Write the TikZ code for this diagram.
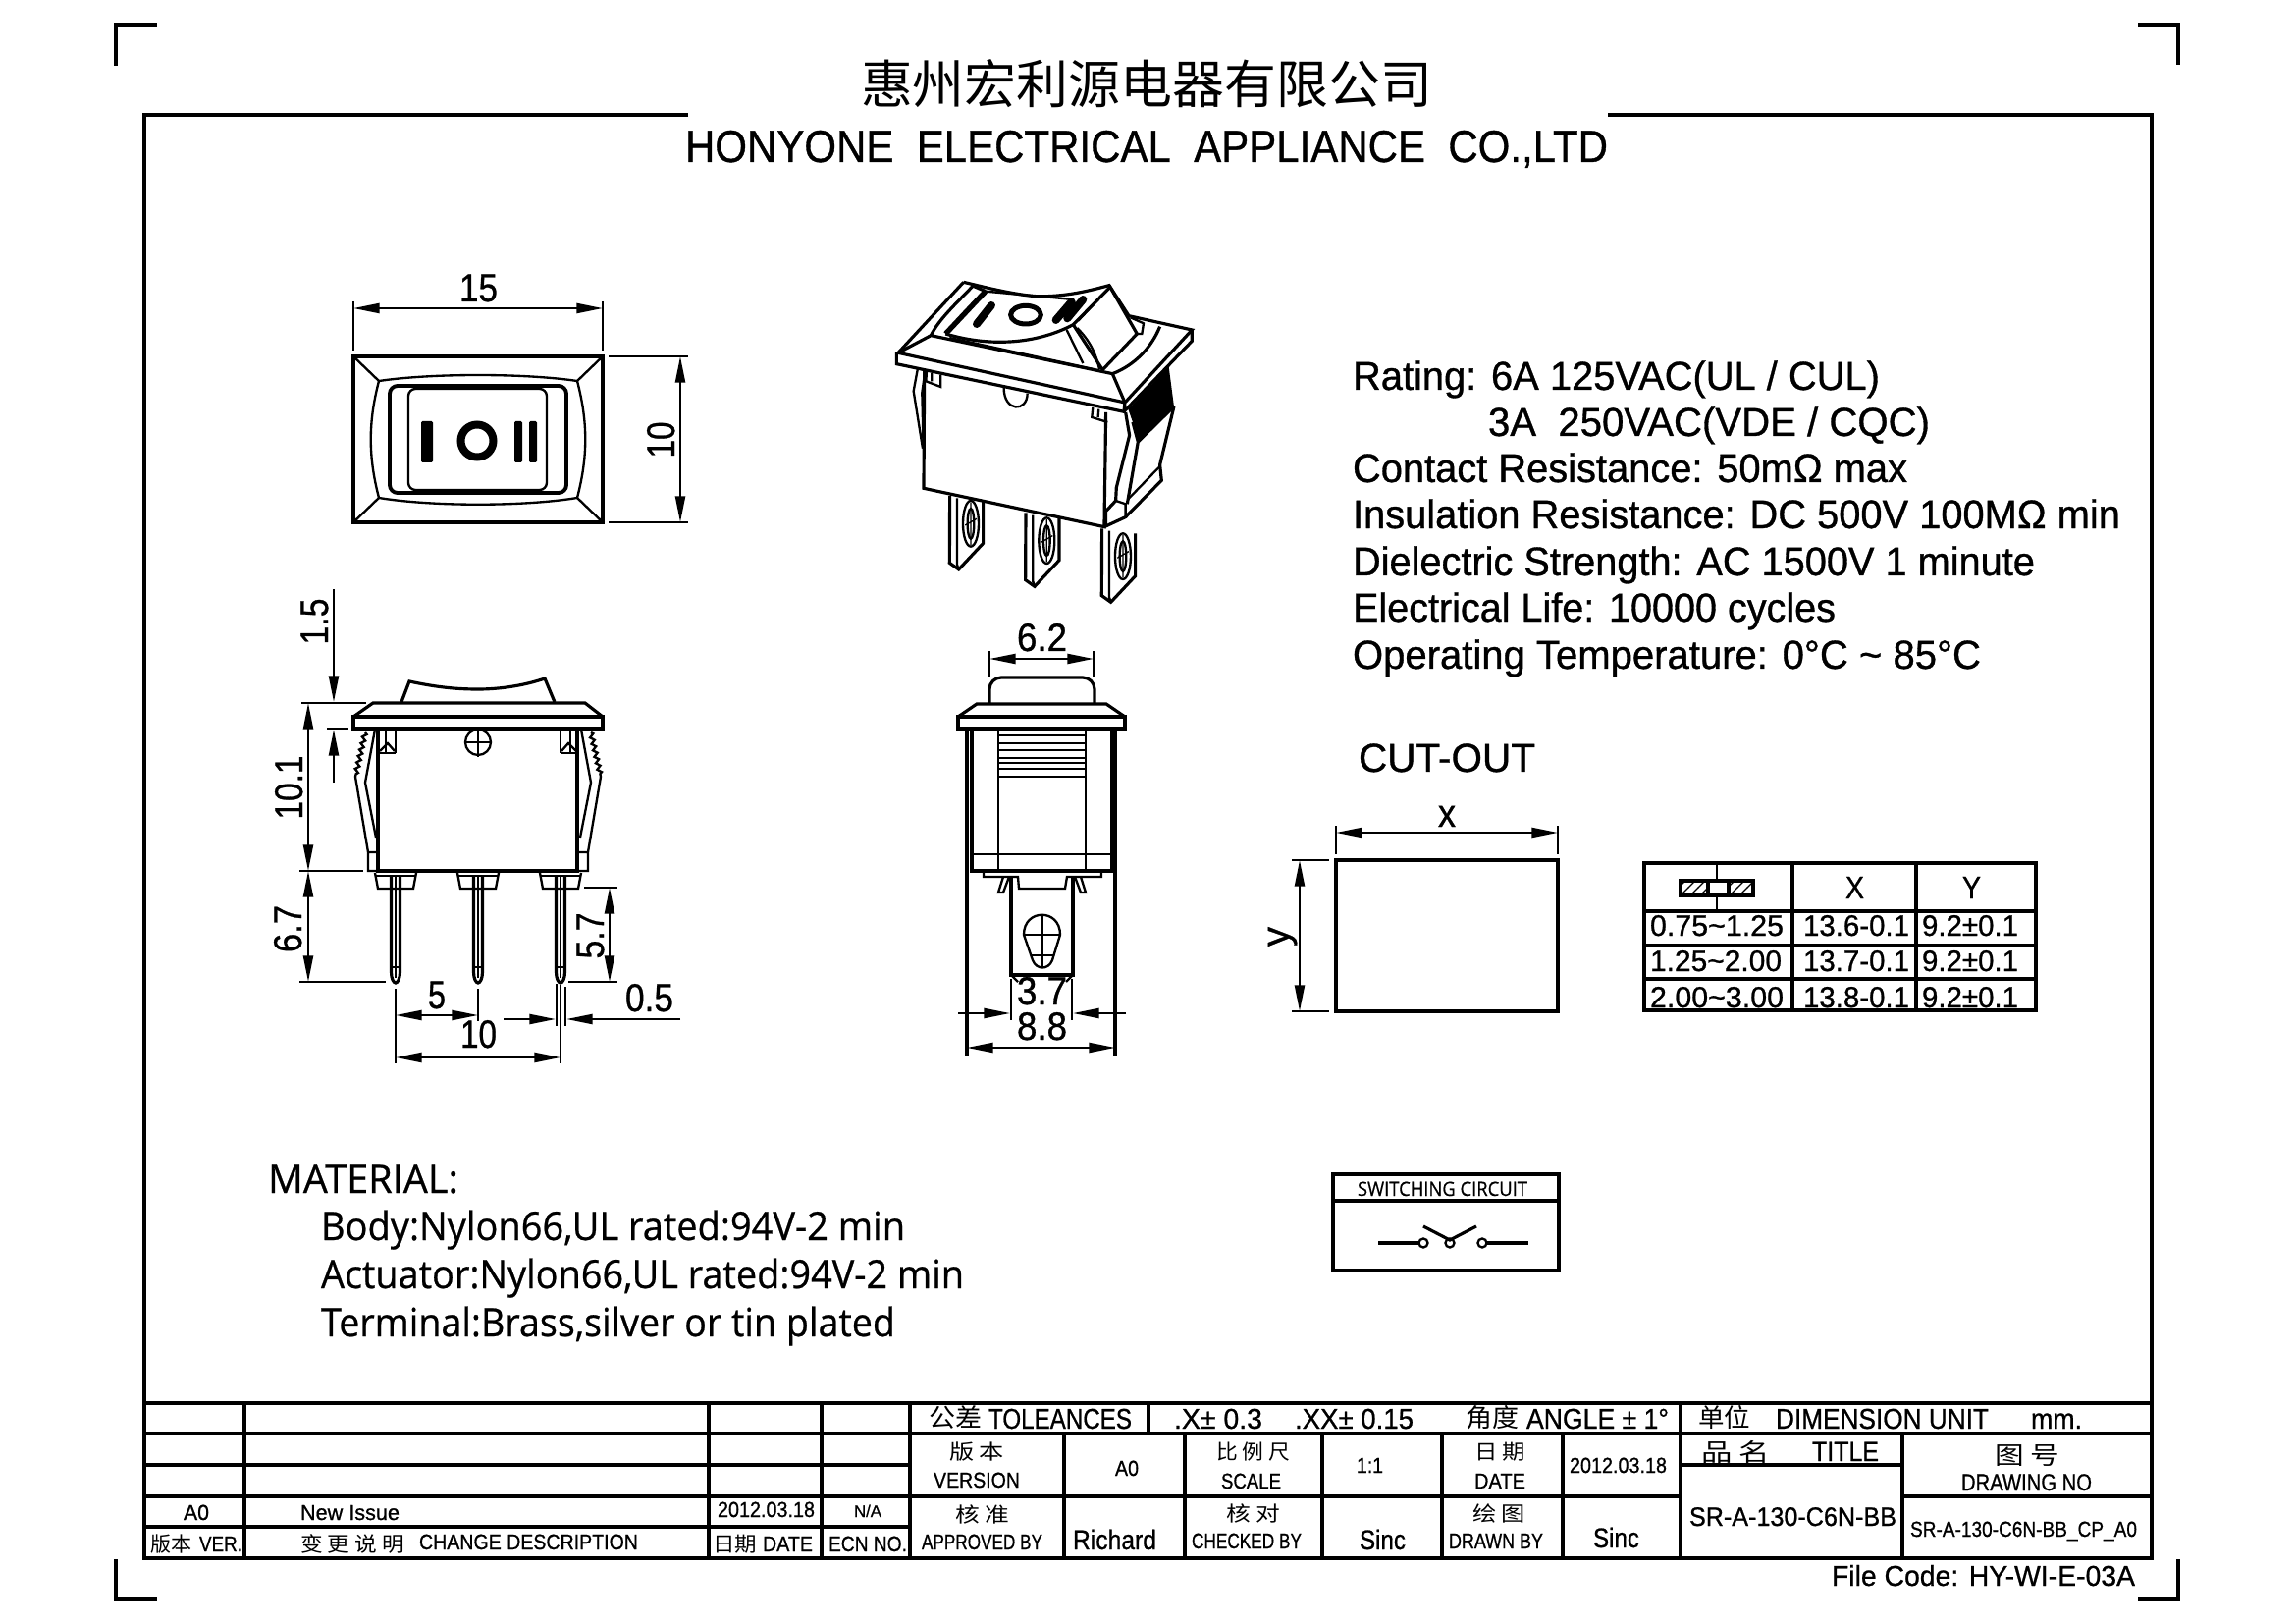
\documentclass[tikz,border=0pt]{standalone}
\usepackage{fontspec}
\usepackage{graphicx}
\usetikzlibrary{arrows.meta,decorations.pathmorphing,patterns}
\setmainfont{Liberation Sans}[FakeBold=0.8]
\newfontfamily\cjk{Noto Sans CJK SC}
\newfontfamily\tah{Open Sans}[FakeBold=0.6]
\newlength\px \setlength\px{0.3pt}
\newlength\twd
\newcounter{tn}
% horizontal text fitted between x1 and x2 on baseline y
\newcommand\tx[6][]{\stepcounter{tn}\pgfmathsetlength\twd{(#3-#2)*0.3pt}%
  \node[lbl,anchor=base west] (t\arabic{tn}) at (#2,#4) {\resizebox{\twd}{\height}{\fontsize{#5\px}{#5\px}\selectfont #1#6}};}
% rotated text: centre y, length, baseline x
\newcommand\rx[5]{\stepcounter{tn}\pgfmathsetlength\twd{#2*0.3pt}%
  \node[lbl,anchor=base,rotate=90] (t\arabic{tn}) at (#3,#1) {\resizebox{\twd}{\height}{\fontsize{#4\px}{#4\px}\selectfont #5}};}
\newcommand\cx[6][]{\tx[\cjk #1]{#2}{#3}{#4}{#5}{#6}}
\tikzset{
  lbl/.style={inner sep=0pt,outer sep=0pt},
  thin line/.style={line width=0.7pt},
  heavy/.style={line width=1.15pt},
  >={Triangle[length=8pt,width=3pt]},
  line join=miter
}
\begin{document}
\begin{tikzpicture}[x=0.3pt,y=-0.3pt,line width=0.95pt]
\useasboundingbox (0,0) rectangle (2339,1654);
\fill[white] (0,0) rectangle (2339,1654);
% corner ticks
\draw (118,67)--(118,25)--(160,25);
\draw (2178,25)--(2219,25)--(2219,66);
\draw (118,1588)--(118,1629)--(160,1629);
\draw (2178,1629)--(2219,1629)--(2219,1588);
% frame
\draw (701,117)--(147,117)--(147,1587)--(2192,1587)--(2192,117)--(1638,117);
% title
\cx{877}{1459}{106}{53}{惠州宏利源电器有限公司}
\tx{698}{1638}{165}{46}{HONYONE\ \ ELECTRICAL\ \ APPLIANCE\ \ CO.,LTD}

% ---------- top view
\draw (360,363) rectangle (614,532);
\draw[thin line] (360,363)--(386,388) (614,363)--(588,388) (360,532)--(386,507) (614,532)--(588,507);
\draw[thin line] (386,388) .. controls (440,380) and (534,380) .. (588,388)
  .. controls (599,430) and (599,465) .. (588,507)
  .. controls (534,516) and (440,516) .. (386,507)
  .. controls (375,465) and (375,430) .. (386,388) -- cycle;
\draw[heavy,rounded corners=2.4pt] (397,393) rectangle (577,502);
\draw[thin line,rounded corners=2.2pt] (416,396) rectangle (557,499);
\fill[rounded corners=0.4pt] (429,429) rectangle (441,471);
\draw[line width=2.4pt] (486,449) circle[radius=16.5];
\fill[rounded corners=0.4pt] (524,429) rectangle (532,471) (539,429) rectangle (547,471);
% dims top view
\draw[thin line] (360,307)--(360,357) (614,307)--(614,357);
\draw[<->,thin line] (360,314)--(614,314);
\tx{468}{507}{307}{40}{15}
\draw[thin line] (620,363)--(701,363) (620,532)--(701,532);
\draw[<->,thin line] (693,363)--(693,532);
\rx{448}{37}{687}{40}{10}

% ---------- isometric view
\begin{scope}[shift={(880,260)},scale=0.3333]
\draw (105,298)--(305,82) (305,82)--(380,100) .. controls (460,118) and (520,128) .. (560,125) .. controls (640,122) and (700,105) .. (750,92) -- (810,185)--(1003,228)--(798,450)--(105,298)--(100,300)--(100,332)--(795,478)--(798,450);
\draw (795,478)--(1003,262)--(1003,228);
\draw (105,298)--(205,245)--(760,362)--(798,450);
\draw (205,245) .. controls (230,195) and (280,150) .. (335,92);
\draw (760,362) .. controls (830,335) and (880,280) .. (905,218);
\draw[line width=1.6pt] (250,240)--(372,110);
\draw[thin line] (372,110)--(640,135);
\draw (372,110)--(330,92);
\draw (250,240) .. controls (400,285) and (540,265) .. (640,212)--(750,100);
\draw[thin line] (262,252)--(720,352);
\draw (750,92)--(835,240)--(730,350)--(640,212);
\draw[thin line] (620,228)--(670,330);
\draw[thin line] (652,222) .. controls (690,260) and (710,300) .. (720,348);
\draw[thin line] (815,190)--(855,208)--(850,240)--(828,240);
\draw[thin line] (655,200)--(745,105);
% marks
\draw[line width=2.4pt,line cap=round] (345,210)--(390,153);
\draw[line width=1.5pt] (495,182) ellipse[x radius=46,y radius=28];
\draw[line width=2.4pt,line cap=round] (587,198)--(635,142) (622,193)--(670,135);
% body
\draw (185,352)--(183,712)--(735,830)--(740,480);
\draw[thin line] (428,405) .. controls (428,480) and (500,480) .. (500,422);
\draw[thin line] (192,352)--(190,385)--(235,402)--(235,365) (208,360)--(208,385);
\draw[thin line] (700,465)--(697,495)--(745,510) (718,470)--(716,495);
% left spring
\draw[thin line] (165,345)--(152,415)--(180,590);
\draw[thin line] (187,355)--(178,420)--(182,590);
% right spring
\fill (808,470)--(932,340)--(948,462)--(838,570)--(822,510)--cycle;
\draw (800,480)--(812,550)--(772,710)--(770,750)--(740,782)--(740,830);
\draw (822,510)--(838,570)--(805,760);
\draw (948,462)--(905,640)--(910,688)--(800,800)--(735,830);
\draw (838,570)--(948,462);
\draw[thin line] (905,645)--(808,745);
\draw[thin line] (770,750)--(800,760)--(800,800);
% terminals
\foreach \dx/\dy/\n in {0/0/1,232/52/2,465/100/3}{
 \begin{scope}[shift={(\dx,\dy)}]
  \draw (263,735)--(262,940)--(290,960)--(365,880)--(365,750);
  \draw[thin line] (285,742)--(285,945)--(290,960);
  \draw[thin line] (327,820) ellipse[x radius=24,y radius=70];
  \draw[thin line] (327,820) ellipse[x radius=10,y radius=46];
  \draw[line width=0.4pt] (327,755)--(327,885) (310,825)--(345,805);
 \end{scope}}
\end{scope}

% ---------- front view
\draw (409,715)--(417,694) .. controls (445,700) and (465,702) .. (487,702) .. controls (510,702) and (535,698) .. (555,691)--(565,715);
\draw (360,730)--(380,716)--(596,716)--(614,730);
\draw (360,730) rectangle (614,742);
\draw (385,742)--(385,887)--(588,887)--(588,742);
\draw[thin line] (487,756) circle[radius=13];
\draw[thin line] (487,741)--(487,771) (474,756)--(500,756);
\begin{scope}
\foreach \t in {0,1}{
 \begin{scope}[shift={(974*\t,0)},xscale=1-2*\t]
  \draw[thin line] (393,742)--(393,767) (403,742)--(403,767) (385,767)--(403,767);
  \draw[thin line] (387,765)--(395,757)--(402,765);
  \draw[thin line,decorate,decoration={zigzag,segment length=2pt,amplitude=0.6pt}] (372,746)--(362,791);
  \draw[thin line] (362,791)--(375,868)--(375,887)--(385,887) (375,868)--(385,868);
  \draw[thin line] (382,743)--(372,797)--(383,853);
 \end{scope}}
\end{scope}
\foreach \c in {403,487,571}{
 \draw[thin line] (\c-21,889)--(\c-18,905)--(\c+18,905)--(\c+21,889);
 \draw[thin line] (\c-21,892)--(\c+21,892);
 \draw (\c-4.5,892)--(\c-4.5,990) .. controls (\c-4.5,997) and (\c-2,1001) .. (\c,1001) .. controls (\c+2,1001) and (\c+4.5,997) .. (\c+4.5,990)--(\c+4.5,892);
 \draw[line width=0.5pt] (\c,892)--(\c,996);
 \draw[line width=0.5pt] (\c-4.5,985)--(\c+4.5,985);
}
% dims front
\draw[thin line] (307,716)--(373,716) (333,742)--(355,742);
\draw[->,thin line] (340,600)--(340,715);
\draw[->,thin line] (340,797)--(340,743);
\rx{633}{47}{334}{40}{1.5}
\draw[thin line] (305,887)--(370,887) (305,1000)--(393,1000);
\draw[<->,thin line] (314,716)--(314,887);
\rx{802}{65}{308}{40}{10.1}
\draw[<->,thin line] (314,887)--(314,1000);
\rx{946}{48}{307}{40}{6.7}
\draw[thin line] (595,904)--(629,904) (579,1000)--(629,1000);
\draw[<->,thin line] (621,904)--(621,1000);
\rx{953}{47}{615}{40}{5.7}
\draw[thin line] (403,1007)--(403,1083) (487,1007)--(487,1040) (571,1003)--(571,1083);
\draw[<->,thin line] (403,1034)--(487,1034);
\tx{436}{454}{1027}{40}{5}
\draw[<->,thin line] (403,1077)--(571,1077);
\tx{469}{506}{1067}{40}{10}
\draw[thin line] (567,1002)--(567,1045) (576,1005)--(576,1045);
\draw[->,thin line] (513,1038)--(566,1038);
\draw[->,thin line] (693,1038)--(577,1038);
\tx{637}{686}{1030}{40}{0.5}

% ---------- side view
\draw[rounded corners=3.6pt] (1008,717)--(1008,690)--(1115,690)--(1115,717);
\draw (976,730)--(995,717)--(1127,717)--(1146,730);
\draw (976,730) rectangle (1146,742);
\draw (990,742)--(990,887)--(1133,887)--(1133,742);
\draw (985,742)--(985,1075) (1136,742)--(1136,1075);
\draw[thin line] (1017,742)--(1017,887) (1106,742)--(1106,887);
\draw[thin line] (990,870)--(1133,870);
\foreach \y in {749,757,764,772,777,783,791}{\draw[thin line] (1017,\y)--(1106,\y);}
\draw[thin line] (1002,887)--(1002,893)--(1037,893)--(1038,905)--(1085,905)--(1087,893)--(1122,893)--(1122,887);
\draw[thin line] (1022,893)--(1017,909)--(1022,909)--(1028,893);
\draw[thin line] (1101,893)--(1106,909)--(1101,909)--(1095,893);
\draw (1030,893)--(1030,993)--(1093,993)--(1093,893);
\draw[thin line] (1030,993)--(1037,1000) (1093,993)--(1086,1000);
\draw[thin line] (1043,952) .. controls (1043,925) and (1080,925) .. (1080,952)--(1072,978) .. controls (1068,988) and (1056,988) .. (1052,978)--cycle;
\draw[thin line] (1062,932)--(1062,985) (1043,952)--(1080,952) (1051,973)--(1073,973);
% dims side
\draw[thin line] (1008,663)--(1008,690) (1114,663)--(1114,690);
\draw[<->,thin line] (1008,671)--(1114,671);
\tx{1036}{1087}{663}{40}{6.2}
\draw[thin line] (1030,997)--(1030,1039) (1092,997)--(1092,1039);
\draw[->,thin line] (976,1032)--(1029,1032);
\draw[->,thin line] (1147,1032)--(1093,1032);
\tx{1036}{1087}{1023}{40}{3.7}
\draw[<->,thin line] (985,1067)--(1136,1067);
\tx{1036}{1087}{1059}{40}{8.8}

% ---------- specs
\tx{1378}{1915}{397}{41}{Rating: 6A 125VAC(UL / CUL)}
\tx{1516}{1966}{444}{41}{3A\ \ 250VAC(VDE / CQC)}
\tx{1378}{1943}{491}{41}{Contact Resistance: 50mΩ max}
\tx{1378}{2160}{538}{41}{Insulation Resistance: DC 500V 100MΩ min}
\tx{1378}{2073}{586}{41}{Dielectric Strength: AC 1500V 1 minute}
\tx{1378}{1870}{633}{41}{Electrical Life: 10000 cycles}
\tx{1378}{2018}{681}{41}{Operating Temperature: 0°C \textasciitilde{} 85°C}
\tx{1384}{1564}{786}{41}{CUT-OUT}

\begin{scope}[shift={(0,1)}]
% ---------- cut-out
\draw (1361,875) rectangle (1587,1029);
\draw[thin line] (1361,840)--(1361,869) (1587,840)--(1587,869);
\draw[<->,thin line] (1361,847)--(1587,847);
\tx{1465}{1483}{841}{40}{x}
\draw[thin line] (1316,875)--(1354,875) (1316,1029)--(1354,1029);
\draw[<->,thin line] (1324,875)--(1324,1029);
\rx{953}{20}{1313}{40}{y}

% ---------- tolerance table
\draw (1675,878) rectangle (2074,1028);
\draw (1826,878)--(1826,1028) (1952,878)--(1952,1028);
\draw (1675,927)--(2074,927) (1675,962)--(2074,962) (1675,996)--(2074,996);
\draw[thin line] (1749,880)--(1749,895) (1749,912)--(1749,925);
\fill[pattern=north east lines] (1712,896) rectangle (1786,911);
\fill[white] (1740,896) rectangle (1761,911);
\draw (1712,896) rectangle (1786,911);
\draw (1740,896)--(1740,911) (1761,896)--(1761,911);
\tx{1880}{1899}{914}{32}{X}
\tx{1999}{2018}{914}{32}{Y}
\tx{1681}{1817}{952}{30}{0.75\textasciitilde 1.25}
\tx{1837}{1945}{952}{30}{13.6-0.1}
\tx{1958}{2056}{952}{30}{9.2±0.1}
\tx{1681}{1815}{988}{30}{1.25\textasciitilde 2.00}
\tx{1837}{1945}{988}{30}{13.7-0.1}
\tx{1958}{2056}{988}{30}{9.2±0.1}
\tx{1681}{1817}{1025}{30}{2.00\textasciitilde 3.00}
\tx{1837}{1945}{1025}{30}{13.8-0.1}
\tx{1958}{2056}{1025}{30}{9.2±0.1}

% ---------- switching circuit
\draw (1358,1195) rectangle (1588,1293);
\draw (1358,1222)--(1588,1222);
\tx[\tah]{1383}{1556}{1217}{20}{SWITCHING CIRCUIT}
\draw (1404,1265)--(1445,1265) (1515,1265)--(1557,1265);
\draw[thin line] (1450,1265) circle[radius=4.5] (1477,1265) circle[radius=4.5] (1510,1265) circle[radius=4.5];
\draw (1450,1248)--(1477,1262)--(1504,1248);

% ---------- material
\tx[\tah]{273}{467}{1214}{40}{MATERIAL:}
\tx[\tah]{327}{922}{1262}{40}{Body:Nylon66,UL rated:94V-2 min}
\tx[\tah]{327}{982}{1311}{40}{Actuator:Nylon66,UL rated:94V-2 min}
\tx[\tah]{327}{912}{1360}{40}{Terminal:Brass,silver or tin plated}

% ---------- title block grid
\draw (147,1428)--(2192,1428);
\draw (147,1459)--(2192,1459);
\draw (147,1491)--(927,1491) (1712,1491)--(1938,1491);
\draw (147,1523)--(1712,1523) (1938,1523)--(2192,1523);
\draw (147,1554)--(927,1554);
\foreach \x in {249,722,837,927}{\draw (\x,1428)--(\x,1586);}
\draw (1170,1428)--(1170,1459) (1712,1428)--(1712,1586);
\foreach \x in {1084,1207,1347,1469,1592,1938}{\draw (\x,1459)--(\x,1586);}
% title block text, first row
\cx{946}{1000}{1452}{26}{公差}
\tx{1007}{1153}{1454}{29}{TOLEANCES}
\tx{1196}{1286}{1454}{29}{.X± 0.3}
\tx{1319}{1440}{1454}{29}{.XX± 0.15}
\cx{1493}{1547}{1452}{26}{角度}
\tx{1555}{1700}{1454}{29}{ANGLE ± 1°}
\cx{1730}{1783}{1452}{26}{单位}
\tx{1809}{2026}{1454}{29}{DIMENSION UNIT}
\tx{2069}{2121}{1454}{29}{mm.}
% revision rows
\tx{187}{213}{1547}{22}{A0}
\tx{306}{407}{1547}{22}{New Issue}
\tx{731}{830}{1544}{22}{2012.03.18}
\tx{870}{898}{1544}{17}{N/A}
\cx{153}{195}{1579}{21}{版本}
\tx{203}{247}{1579}{22}{VER.}
\cx{306}{412}{1579}{21}{变 更 说 明}
\tx{427}{650}{1577}{22}{CHANGE DESCRIPTION}
\cx{726}{771}{1579}{21}{日期}
\tx{777}{828}{1579}{22}{DATE}
\tx{844}{924}{1579}{22}{ECN NO.}
% approvals
\cx{967}{1023}{1485}{21}{版 本}
\tx{951}{1039}{1514}{22}{VERSION}
\tx{1136}{1160}{1502}{22}{A0}
\cx{973}{1028}{1549}{21}{核 准}
\tx{939}{1062}{1577}{22}{APPROVED BY}
\tx{1093}{1178}{1577}{28}{Richard}
\cx{1239}{1314}{1485}{21}{比 例 尺}
\tx{1244}{1305}{1515}{22}{SCALE}
\tx{1382}{1409}{1499}{22}{1:1}
\cx{1249}{1304}{1548}{21}{核 对}
\tx{1214}{1326}{1576}{22}{CHECKED BY}
\tx{1385}{1432}{1577}{28}{Sinc}
\cx{1502}{1554}{1485}{21}{日 期}
\tx{1502}{1554}{1515}{22}{DATE}
\tx{1599}{1698}{1499}{22}{2012.03.18}
\cx{1500}{1554}{1548}{21}{绘 图}
\tx{1476}{1572}{1576}{22}{DRAWN BY}
\tx{1623}{1670}{1575}{28}{Sinc}
\cx{1733}{1803}{1487}{25}{品 名}
\tx{1846}{1914}{1487}{28}{TITLE}
\cx{2032}{2098}{1490}{25}{图 号}
\tx{1998}{2131}{1517}{24}{DRAWING NO}
\tx{1721}{1932}{1553}{27}{SR-A-130-C6N-BB}
\tx{1946}{2177}{1564}{22}{SR-A-130-C6N-BB\_CP\_A0}
\tx{1866}{2175}{1614}{29}{File Code: HY-WI-E-03A}
\end{scope}
\end{tikzpicture}
\end{document}
